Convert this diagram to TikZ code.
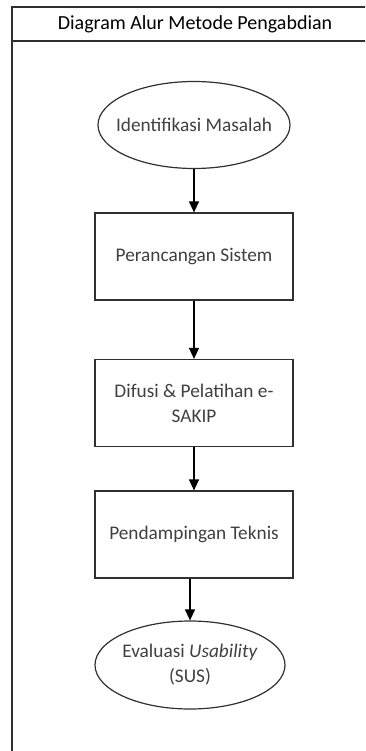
\documentclass[tikz,border=0pt]{standalone}
\usepackage{fontspec}
\setmainfont{Carlito}
\usetikzlibrary{shapes.geometric,arrows.meta}
\definecolor{linec}{HTML}{303030}
\definecolor{txtc}{HTML}{404040}
\tikzset{
  x=1pt,y=-1pt,
  shapeline/.style={draw=linec,line width=1.2pt},
  txt/.style={text=txtc,align=center,font=\fontsize{19.3}{25}\selectfont},
  stepbox/.style={shapeline,rectangle,minimum width=198pt,minimum height=87pt,inner sep=0pt,txt},
  termbox/.style={shapeline,ellipse,inner sep=0pt},
  flow/.style={draw=black,line width=1.3pt,-{Triangle[length=11pt,width=10pt]}}
}
\begin{document}
\begin{tikzpicture}
\useasboundingbox (0,0) rectangle (365,751);
\clip (0,0) rectangle (365,751);
\draw[shapeline,line width=1.6pt] (12,800) -- (12,7) -- (380,7);
\draw[shapeline,line width=1.6pt] (12,41) -- (380,41);
\node[text=black,font=\fontsize{20}{24}\selectfont] (title) at (195,24) {Diagram Alur Metode Pengabdian};
\node[termbox,minimum width=192pt,minimum height=87pt,label={[txt]center:Identifikasi Masalah}] (n1) at (194,125) {};
\node[stepbox] (n2) at (194,256.5) {Perancangan Sistem};
\node[stepbox] (n3) at (194,403) {Difusi \& Pelatihan e-\\SAKIP};
\node[stepbox] (n4) at (194,534.5) {Pendampingan Teknis};
\node[termbox,minimum width=190pt,minimum height=88pt,label={[txt]center:Evaluasi \textit{Usability}\\(SUS)}] (n5) at (190,665) {};
\draw[flow] (n1.south) -- (n2.north);
\draw[flow] (n2.south) -- (n3.north);
\draw[flow] (n3.south) -- (n4.north);
\draw[flow] (n4.south -| n5.north) -- (n5.north);
\end{tikzpicture}
\end{document}
